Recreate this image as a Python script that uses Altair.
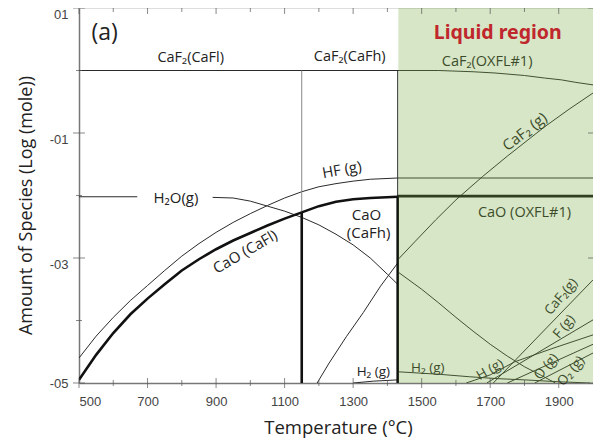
import altair as alt
import pandas as pd

# ---------------- data ----------------
HF_T = [500, 550, 600, 650, 700, 750, 800, 850, 900, 950, 1000, 1050, 1100, 1150, 1200, 1250, 1300, 1350, 1430, 2000]
HF_V = [-4.6, -4.25, -3.95, -3.68, -3.44, -3.2, -2.97, -2.77, -2.59, -2.43, -2.29, -2.16, -2.04, -1.94, -1.86, -1.81, -1.77, -1.74, -1.72, -1.72]

H2O_A_T = [500, 670]
H2O_A_V = [-2.02, -2.02]
H2O_B_T = [890, 950, 1000, 1050, 1100, 1150, 1200, 1250, 1300, 1350, 1400, 1430]
H2O_B_V = [-2.03, -2.04, -2.09, -2.17, -2.25, -2.35, -2.47, -2.62, -2.79, -3.0, -3.26, -3.42]
H2O_L_T = [1430, 1500, 1550, 1600, 1650, 1700, 1750, 1800, 1850, 1890]
H2O_L_V = [-3.22, -3.5, -3.72, -3.95, -4.17, -4.38, -4.57, -4.74, -4.88, -5.0]

CAF2G_S_T = [1195, 1230, 1280, 1330, 1380, 1430]
CAF2G_S_V = [-5.0, -4.68, -4.26, -3.87, -3.45, -3.08]
CAF2G_L_T = [1430, 1480, 1541, 1600, 1677, 1750, 1859, 1930, 2000]
CAF2G_L_V = [-3.03, -2.74, -2.39, -2.07, -1.7, -1.37, -0.9, -0.62, -0.36]

CAF2_TOP_T = [500, 1550, 1650, 1714, 1800, 1858, 1908, 1950, 2000]
CAF2_TOP_V = [0.0, 0.0, -0.02, -0.04, -0.08, -0.12, -0.15, -0.19, -0.23]

H2_S_T = [1300, 1360, 1430]
H2_S_V = [-5.0, -4.97, -4.95]
H2_L_T = [1430, 1550, 1640, 1720, 1800, 1900, 1990]
H2_L_V = [-4.82, -4.86, -4.9, -4.93, -4.95, -4.98, -5.0]

CAFG_T = [1709, 1850, 2000]
CAFG_V = [-5.0, -4.2, -3.35]
FG_T = [1690, 2000]
FG_V = [-5.0, -3.99]
HG_T = [1630, 1700, 1772, 1880, 2000]
HG_V = [-5.0, -4.87, -4.66, -4.45, -4.23]
OG_T = [1750, 2000]
OG_V = [-5.0, -4.38]
O2G_T = [1830, 2000]
O2G_V = [-5.0, -4.52]

CAO_FL_T = [500, 550, 600, 650, 700, 750, 800, 850, 900, 950, 1000, 1050, 1100, 1150]
CAO_FL_V = [-4.95, -4.55, -4.2, -3.9, -3.65, -3.42, -3.2, -3.02, -2.86, -2.72, -2.6, -2.48, -2.37, -2.27]
CAO_FH_T = [1150, 1200, 1250, 1300, 1350, 1430]
CAO_FH_V = [-2.27, -2.17, -2.1, -2.06, -2.04, -2.02]
CAO_L_T = [1430, 2000]
CAO_L_V = [-2.01, -2.01]

B1_T = [1150, 1150]
B1_THIN_V = [0.0, -2.27]
B1_THICK_V = [-2.27, -5.0]
B2_T = [1430, 1430]
B2_THIN_V = [0.0, -2.02]
B2_THICK_V = [-2.02, -5.0]

LIQUID_FROM = [1432]
LIQUID_TO = [2000]

X_MAJOR = [500, 700, 900, 1100, 1300, 1500, 1700, 1900]
X_MINOR = [600, 800, 1000, 1200, 1400, 1600, 1800]
Y_MAJOR = [1, -1, -3, -5]
Y_MINOR = [0, -2, -4]

LABEL_TEXT = ["CaF₂(CaFl)", "CaF₂(CaFh)", "CaF₂(OXFL#1)", "CaF₂ (g)", "HF (g)", "H₂O(g)",
              "CaO (CaFl)", "CaO", "(CaFh)", "CaO  (OXFL#1)", "H₂ (g)", "H₂ (g)",
              "H (g)", "CaF₂(g)", "F (g)", "O (g)", "O₂ (g)"]
LABEL_T = [826, 1290, 1691, 1801, 1267, 783, 985, 1339, 1345, 1800, 1359, 1518,
           1700, 1907, 1916, 1864, 1936]
LABEL_V = [0.2, 0.22, 0.14, -0.98, -1.59, -2.04, -2.9, -2.31, -2.6, -2.28, -4.82, -4.76,
           -4.79, -3.62, -4.1, -4.74, -4.81]
LABEL_ANGLE = [0, 0, 0, 322, 350, 0, 330, 0, 0, 0, 0, 0, 330, 310, 310, 310, 310]
LABEL_SIZE = [14.5, 14.5, 14.5, 15, 15, 15, 15, 15, 15, 14.5, 13.5, 13.5, 13.5, 13.5, 13.5, 13.5, 13.5]

# ---------------- build tables ----------------
def seg(name, ts, vs):
    return pd.DataFrame({"s": name, "i": list(range(len(ts))), "T": ts, "v": vs})

thin = pd.concat([
    seg("HF", HF_T, HF_V), seg("H2Oa", H2O_A_T, H2O_A_V), seg("H2Ob", H2O_B_T, H2O_B_V),
    seg("H2Ol", H2O_L_T, H2O_L_V), seg("CaF2gS", CAF2G_S_T, CAF2G_S_V),
    seg("CaF2gL", CAF2G_L_T, CAF2G_L_V), seg("CaF2top", CAF2_TOP_T, CAF2_TOP_V),
    seg("H2s", H2_S_T, H2_S_V), seg("H2l", H2_L_T, H2_L_V), seg("CaFg", CAFG_T, CAFG_V),
    seg("Fg", FG_T, FG_V), seg("Hg", HG_T, HG_V), seg("Og", OG_T, OG_V), seg("O2g", O2G_T, O2G_V),
    seg("B2thin", B2_T, B2_THIN_V),
])
gray = seg("B1thin", B1_T, B1_THIN_V)
thick = pd.concat([
    seg("CaOFl", CAO_FL_T, CAO_FL_V), seg("CaOFh", CAO_FH_T, CAO_FH_V), seg("CaOL", CAO_L_T, CAO_L_V),
    seg("B1thick", B1_T, B1_THICK_V), seg("B2thick", B2_T, B2_THICK_V),
])

labels = pd.DataFrame({"T": LABEL_T, "v": LABEL_V, "text": LABEL_TEXT, "a": LABEL_ANGLE,
                       "fs": LABEL_SIZE})
region = pd.DataFrame({"T": LIQUID_FROM, "T2": LIQUID_TO, "v": [-5], "v2": [1]})

xt_major = pd.DataFrame({"T": X_MAJOR})
xt_minor = pd.DataFrame({"T": X_MINOR})
yt_major = pd.DataFrame({"v": Y_MAJOR})
yt_minor = pd.DataFrame({"v": Y_MINOR})

XS = alt.Scale(domain=[500, 2000], nice=False, zero=False)
YS = alt.Scale(domain=[-5, 1], nice=False, zero=False)

x_axis = alt.Axis(values=X_MAJOR, format="d", ticks=False, tickSize=0, grid=False, labelPadding=12,
                  labelFont="Liberation Sans", labelFontSize=13, labelColor="#444",
                  domainColor="#777", domainWidth=1.5,
                  title="Temperature (°C)", titleFont="Open Sans", titleFontSize=18.5,
                  titleFontWeight="normal", titleColor="#222",
                  titleX=259, titleY=44, titleBaseline="middle", titleAlign="center")
y_axis = alt.Axis(values=Y_MAJOR, ticks=False, tickSize=0, grid=False, labelPadding=11,
                  labelFlush=False,
                  labelExpr="datum.value == 1 ? '01' : '-0' + abs(datum.value)",
                  labelBaseline={"condition": {"test": "datum.value < -4", "value": "middle"},
                                 "value": "top"},
                  labelFont="Liberation Sans", labelFontSize=13, labelColor="#444",
                  domainColor="#777", domainWidth=1.5,
                  title="Amount of Species (Log (mole))", titleFont="Open Sans", titleFontSize=18,
                  titleFontWeight="normal", titleColor="#222",
                  titleX=-53, titleY=197, titleAngle=270, titleBaseline="middle", titleAlign="center")

X = alt.X("T:Q", scale=XS, axis=x_axis)
Y = alt.Y("v:Q", scale=YS, axis=y_axis)
Xp = alt.X("T:Q", scale=XS)
Yp = alt.Y("v:Q", scale=YS)

thin_l = alt.Chart(thin).mark_line(color="#2a2a2a", strokeWidth=1, clip=True).encode(
    x=X, y=Y, detail="s:N", order="i:Q")
gray_l = alt.Chart(gray).mark_line(color="#888", strokeWidth=1, clip=True).encode(
    x=Xp, y=Yp, detail="s:N", order="i:Q")
thick_l = alt.Chart(thick).mark_line(color="#111", strokeWidth=2.6, clip=True).encode(
    x=Xp, y=Yp, detail="s:N", order="i:Q")

lab = alt.Chart(labels).mark_text(font="Open Sans", color="#222",
                                  align="center", baseline="middle").encode(
    x=Xp, y=Yp, text="text:N", angle=alt.Angle("a:Q", scale=None),
    size=alt.Size("fs:Q", scale=None))

tag = alt.Chart(pd.DataFrame({"T": [575], "v": [0.6], "text": ["(a)"]})).mark_text(
    font="Open Sans", fontSize=23, color="#222").encode(x=Xp, y=Yp, text="text:N")

green = alt.Chart(region).mark_rect(color="#7aac41", opacity=0.3).encode(
    x=Xp, x2="T2:Q", y=Yp, y2="v2:Q")

liq = alt.Chart(pd.DataFrame({"T": [1722], "v": [0.6], "text": ["Liquid region"]})).mark_text(
    font="Noto Sans", fontSize=19.5, fontWeight="bold", color="#c0272d").encode(
    x=Xp, y=Yp, text="text:N")

def xticks(df, v, size):
    return alt.Chart(df).mark_tick(orient="vertical", size=size, thickness=1, color="#555").encode(
        x=Xp, y=alt.datum(v, scale=YS))

def yticks(df, t, size):
    return alt.Chart(df).mark_tick(orient="horizontal", size=size, thickness=1, color="#555").encode(
        y=Yp, x=alt.datum(t, scale=XS))

ticks = [
    xticks(xt_major, -5, 10), xticks(xt_minor, -5, 6),
    xticks(xt_major, 1, 12), xticks(xt_minor, 1, 8),
    yticks(yt_major, 500, 12), yticks(yt_minor, 500, 6),
    yticks(yt_major, 2000, 10),
]

chart = alt.layer(thin_l, gray_l, thick_l, lab, tag, green, liq, *ticks).properties(
    width=514, height=375,
    autosize=alt.AutoSizeParams(type="none"),
    padding={"left": 71, "top": 0, "right": 0, "bottom": 58},
).configure_view(stroke="#555", strokeWidth=1).configure(background="white")

chart.save("out.html", embed_options={"renderer": "svg", "actions": False})
